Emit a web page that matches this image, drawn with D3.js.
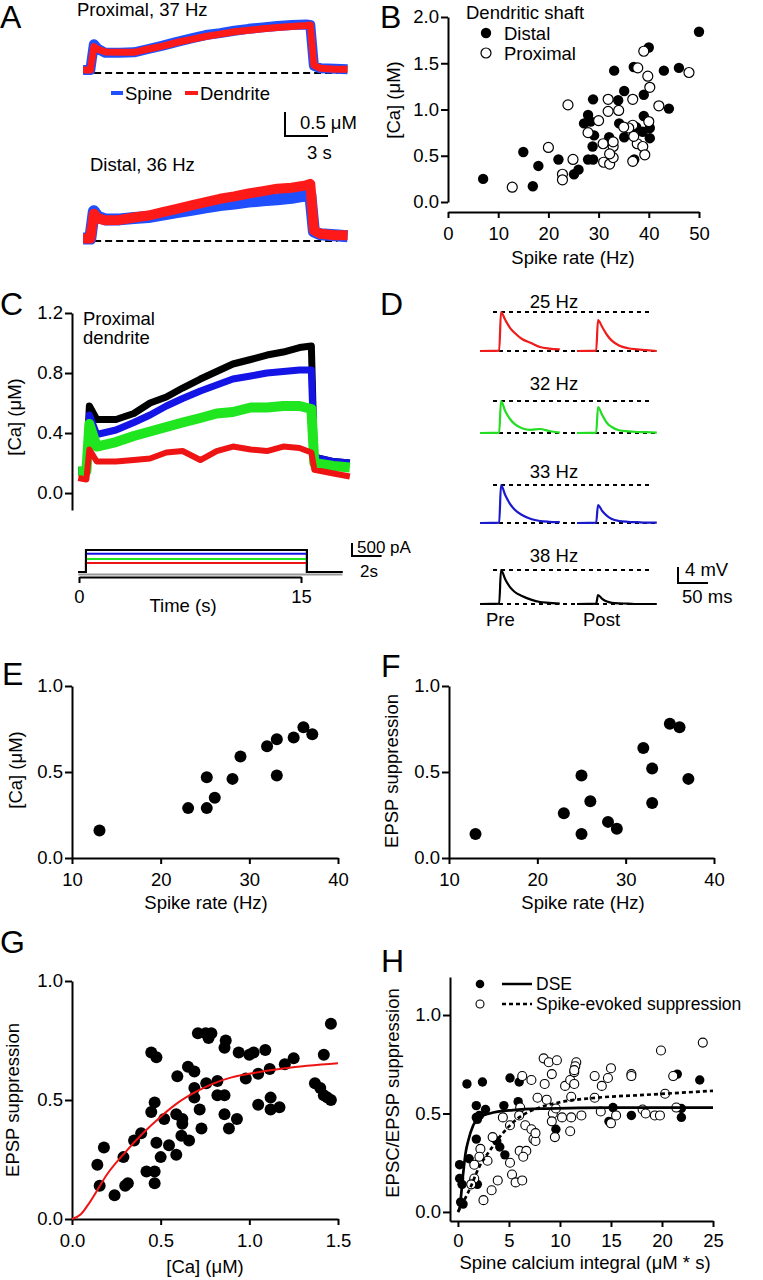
<!DOCTYPE html>
<html><head><meta charset="utf-8">
<script src="https://cdn.jsdelivr.net/npm/d3@7"></script>
<style>body{margin:0;background:#fff}</style>
</head><body>
<script>
const FONT = "'Liberation Sans', Arial, Helvetica, sans-serif";

// ---------- Panel A data (time s, [Ca] uM) ----------
const aTime = [-0.55, -0.05, 0.2, 0.5, 1, 2, 3, 4, 5, 6, 7, 8, 9, 10, 11, 12, 13, 14, 15, 15.3, 15.55, 16, 17, 17.9];
const aProxSpine = [0.06, 0.06, 0.6, 0.5, 0.42, 0.42, 0.43, 0.5, 0.57, 0.65, 0.72, 0.79, 0.83, 0.88, 0.92, 0.95, 0.98, 1.0, 1.01, 1.0, 0.15, 0.1, 0.09, 0.08];
const aProxDend  = [0.06, 0.06, 0.55, 0.49, 0.44, 0.43, 0.43, 0.5, 0.56, 0.64, 0.7, 0.76, 0.81, 0.86, 0.89, 0.92, 0.95, 0.97, 0.99, 1.0, 0.16, 0.1, 0.08, 0.08];
const aDistSpine = [0.05, 0.05, 0.62, 0.5, 0.45, 0.45, 0.48, 0.5, 0.55, 0.6, 0.65, 0.7, 0.75, 0.78, 0.82, 0.85, 0.87, 0.9, 0.95, 0.97, 0.2, 0.14, 0.12, 0.1];
const aDistDend  = [0.05, 0.05, 0.57, 0.47, 0.43, 0.44, 0.49, 0.53, 0.6, 0.67, 0.74, 0.81, 0.88, 0.93, 0.99, 1.04, 1.09, 1.11, 1.16, 1.19, 0.22, 0.15, 0.12, 0.12];
const aBaseSpan = [-0.55, 17.2];

// ---------- Panel B data (spike rate Hz, [Ca] uM) ----------
const bDistal = [[7,0.25],[15,0.54],[18,0.39],[16.9,0.17],[22,0.46],[25.1,0.3],[26,0.35],[27.1,0.85],[27.9,0.94],[28.4,0.87],[27.9,0.46],[28.9,0.46],[28.8,0.6],[28.9,1.11],[29.1,0.72],[33.1,1.42],[32.1,0.7],[33.9,1.1],[35.1,1.2],[34.1,0.85],[35.1,0.7],[37,1.46],[40,1.67],[39,1.16],[39,0.93],[40.2,0.8],[40.2,0.69],[38.8,0.76],[43,1.42],[46,1.45],[44,1.01],[50,1.84],[37.1,0.46],[37.5,0.81]];
const bProximal = [[12.8,0.16],[20,0.59],[23.9,1.05],[22.8,0.3],[22.8,0.24],[24.9,0.46],[27.9,0.75],[30,0.88],[30.9,0.63],[31,0.43],[31.9,1.11],[31.9,0.98],[32.2,0.41],[32.9,0.6],[32.9,0.48],[32.9,0.65],[34,0.99],[32.2,0.52],[36.8,0.83],[36.8,1.11],[37.8,1.45],[39,1.63],[39.8,1.36],[40.2,1.24],[40,0.87],[42,1.04],[48,1.4],[36,0.8],[37.7,0.63],[37,0.71],[38.8,0.6],[39.2,0.51],[36.8,0.44],[35,0.81]];
const bXTicks = [0, 10, 20, 30, 40, 50];
const bYTicks = [0, 0.5, 1.0, 1.5, 2.0];

// ---------- Panel C data ----------
const cTime  = [-0.05, 0.5, 0.7, 1.2, 2.5, 3.7, 4.8, 5.9, 7.0, 8.2, 9.3, 10.4, 11.6, 12.7, 13.8, 14.9, 15.7, 15.9, 17.2, 18.3];
const cBlack = [0.15, 0.15, 0.58, 0.49, 0.49, 0.53, 0.60, 0.64, 0.70, 0.76, 0.81, 0.86, 0.89, 0.92, 0.94, 0.97, 0.98, 0.24, 0.21, 0.20];
const cBlue  = [0.14, 0.14, 0.52, 0.39, 0.42, 0.47, 0.52, 0.58, 0.63, 0.68, 0.72, 0.76, 0.78, 0.80, 0.81, 0.82, 0.82, 0.24, 0.21, 0.20];
const cGreen = [0.145, 0.145, 0.46, 0.31, 0.34, 0.38, 0.41, 0.44, 0.47, 0.50, 0.53, 0.54, 0.57, 0.57, 0.58, 0.58, 0.56, 0.20, 0.18, 0.17];
const cRed   = [0.10, 0.09, 0.29, 0.21, 0.21, 0.22, 0.23, 0.27, 0.28, 0.22, 0.28, 0.31, 0.29, 0.28, 0.31, 0.30, 0.27, 0.155, 0.13, 0.11];
const cStimT = [-0.05, 0.47, 15.4, 17.8];
const cStimAmp = [850, 700, 500, 350]; // pA: black, blue, green, red
const cYTicks = [0, 0.4, 0.8, 1.2];
const cXTicks = [0, 15];

// ---------- Panel D data (ms, mV) ----------
const dTime = [0, 32, 35, 42, 50, 58, 70, 85, 100, 115, 133];
const dLabels = ["25 Hz", "32 Hz", "33 Hz", "38 Hz"];
const dColors = ["#ee1c1c", "#22dd22", "#1a1acc", "#000000"];
const dPre = [
  [0, 0.1, 9.75, 7.8, 5.8, 4.5, 3.0, 2.0, 1.0, 0.6, 0.4],
  [0, 0.1, 8.0, 5.5, 3.5, 2.2, 1.2, 0.8, 1.0, 0.5, 0.1],
  [0, 0.1, 9.5, 7.0, 4.8, 3.3, 2.0, 1.0, 0.5, 0.3, 0.2],
  [0, 0.1, 8.5, 6.2, 4.2, 3.0, 2.0, 1.1, 0.5, 0.3, 0.1]];
const dPost = [
  [0, 0.1, 7.75, 6.0, 4.0, 2.6, 1.4, 0.7, 0.4, 0.2, 0.0],
  [0, 0.1, 6.5, 4.5, 2.5, 1.5, 0.7, 0.4, 0.25, 0.2, 0.1],
  [0, 0.1, 4.5, 3.0, 1.8, 1.0, 0.5, 0.3, 0.2, 0.1, 0.1],
  [0, 0.1, 2.25, 1.3, 0.6, 0.3, 0.15, 0.1, 0, 0, 0]];

// ---------- Panel E / F data ----------
const eData = [[13.1,0.16],[23.1,0.29],[25.2,0.47],[25.2,0.29],[26.1,0.35],[28.1,0.46],[29,0.59],[32,0.65],[33.1,0.69],[33.1,0.48],[35,0.7],[36.1,0.76],[37.1,0.72]];
const fData = [[13,0.14],[23,0.26],[25,0.48],[25,0.14],[26,0.33],[28,0.21],[29,0.17],[32,0.64],[33,0.52],[33,0.32],[35,0.78],[36.1,0.76],[37.1,0.46]];
const efXTicks = [10, 20, 30, 40];
const efYTicks = [0, 0.5, 1.0];

// ---------- Panel G data ----------
const gData = [[0.143,0.228],[0.156,0.14],[0.18,0.3],[0.24,0.1],[0.29,0.26],[0.3,0.14],[0.315,0.15],[0.35,0.33],[0.39,0.36],[0.42,0.2],[0.447,0.7],[0.476,0.68],[0.447,0.45],[0.466,0.49],[0.466,0.2],[0.466,0.15],[0.476,0.32],[0.5,0.26],[0.52,0.42],[0.547,0.31],[0.588,0.27],[0.594,0.6],[0.588,0.44],[0.622,0.42],[0.622,0.4],[0.617,0.35],[0.66,0.33],[0.654,0.64],[0.69,0.62],[0.69,0.55],[0.69,0.51],[0.71,0.78],[0.754,0.78],[0.77,0.76],[0.786,0.78],[0.72,0.46],[0.73,0.38],[0.757,0.57],[0.82,0.58],[0.82,0.52],[0.86,0.52],[0.867,0.75],[0.86,0.72],[0.86,0.44],[0.885,0.38],[0.93,0.42],[0.94,0.7],[0.98,0.59],[1.0,0.69],[1.024,0.7],[1.05,0.61],[1.05,0.48],[1.09,0.71],[1.115,0.63],[1.12,0.51],[1.12,0.46],[1.17,0.47],[1.2,0.65],[1.25,0.675],[1.37,0.57],[1.4,0.55],[1.42,0.52],[1.44,0.51],[1.46,0.5],[1.42,0.69],[1.46,0.82]];
const gFitX = [0, 0.05, 0.1, 0.2, 0.3, 0.4, 0.5, 0.6, 0.7, 0.8, 0.9, 1.0, 1.2, 1.5];
const gFitY = [0, 0.02, 0.07, 0.19, 0.28, 0.36, 0.43, 0.49, 0.535, 0.57, 0.595, 0.61, 0.633, 0.654];
const gXTicks = [0, 0.5, 1.0, 1.5];
const gYTicks = [0, 0.5, 1.0];

// ---------- Panel H data ----------
const hDSE = [[0.88,0.65],[2.4,0.66],[1.8,0.54],[2.7,0.52],[1.8,0.48],[1.9,0.47],[2.1,0.49],[1.8,0.37],[1.1,0.27],[0.16,0.24],[0.16,0.17],[0.4,0.14],[0.26,0.05],[0.5,0.04],[1.9,0.14],[4.5,0.54],[5.1,0.68],[6.0,0.66],[5.9,0.56],[3.8,0.36],[4.1,0.33],[4.6,0.29],[9.6,0.42],[15.2,0.53],[14.8,0.46],[17,0.49],[21.5,0.7],[21.9,0.48],[21.9,0.525],[23.7,0.67]];
const hSpike = [[2.2,0.32],[2.1,0.28],[1.6,0.24],[1.6,0.17],[1.3,0.14],[2.9,0.26],[2.5,0.06],[3.3,0.11],[3.4,0.38],[3.9,0.16],[4.4,0.48],[5.1,0.25],[5.1,0.44],[5.3,0.19],[5.65,0.15],[6.3,0.16],[6.05,0.31],[6.7,0.31],[6.4,0.28],[6.3,0.69],[7.2,0.67],[6.1,0.53],[6.0,0.49],[6.6,0.44],[7.2,0.42],[7.4,0.37],[7.6,0.36],[7.6,0.4],[7.8,0.58],[8.4,0.78],[8.9,0.76],[9.7,0.77],[8.5,0.65],[8.7,0.57],[9.3,0.5],[9.2,0.46],[9.5,0.38],[9.2,0.7],[9.6,0.525],[10.5,0.64],[11,0.67],[11.1,0.585],[10.2,0.48],[11.1,0.48],[11.0,0.41],[11.4,0.65],[11.4,0.71],[11.6,0.76],[11.5,0.74],[11.4,0.72],[12.1,0.49],[13.4,0.69],[13.4,0.58],[14,0.51],[14.1,0.64],[14.7,0.68],[15,0.73],[15,0.45],[15.5,0.49],[17,0.7],[17,0.69],[18.1,0.52],[18.4,0.5],[19.3,0.49],[19.8,0.49],[19.9,0.82],[20.3,0.6],[21.1,0.69],[21.4,0.53],[24,0.86]];
const hDseFitX = [0, 0.16, 0.5, 0.75, 1.0, 1.5, 2.1, 3.1, 5.4, 8.7, 15, 25];
const hDseFitY = [0, 0.02, 0.19, 0.30, 0.36, 0.44, 0.48, 0.50, 0.517, 0.525, 0.53, 0.53];
const hSpkFitX = [0, 1.1, 2.1, 3.1, 4.4, 6.0, 8.0, 10.3, 13.6, 18.5, 25];
const hSpkFitY = [0, 0.11, 0.23, 0.31, 0.40, 0.48, 0.53, 0.56, 0.58, 0.595, 0.615];
const hXTicks = [0, 5, 10, 15, 20, 25];
const hYTicks = [0, 0.5, 1.0];

// =================== drawing ===================
const TICK_FS = 18.5, LAB_FS = 18.5;
const svg = d3.select("body").append("svg").attr("width", 763).attr("height", 1280)
  .style("font-family", FONT);

function txt(x, y, s, size, anchor, rot) {
  const t = svg.append("text").attr("font-size", size || LAB_FS).attr("fill", "#000")
    .attr("text-anchor", anchor || "start").text(s);
  if (rot) t.attr("transform", `translate(${x},${y}) rotate(-90)`);
  else t.attr("x", x).attr("y", y);
  return t;
}
function styleAxis(g) {
  g.selectAll("path").attr("stroke", "#000").attr("stroke-width", 2);
  g.selectAll("line").attr("stroke", "#000").attr("stroke-width", 2);
  g.selectAll("text").attr("font-size", TICK_FS).attr("font-family", FONT).attr("fill", "#000");
}
function leftAxis(x0, y, ticks, fmt) {
  const g = svg.append("g").attr("transform", `translate(${x0},0)`)
    .call(d3.axisLeft(y).tickValues(ticks).tickFormat(fmt).tickSize(7).tickPadding(2).tickSizeOuter(0));
  styleAxis(g);
}
function bottomAxis(y0, x, ticks, fmt, pad) {
  const g = svg.append("g").attr("transform", `translate(0,${y0})`)
    .call(d3.axisBottom(x).tickValues(ticks).tickFormat(fmt).tickSize(6).tickPadding(pad).tickSizeOuter(0));
  styleAxis(g);
}
const f1 = d3.format(".1f"), f0 = d3.format("d");

// ---------- Panel A ----------
txt(0, 28, "A", 32);
const xA = d3.scaleLinear().domain([0, 15]).range([91, 306]);
const yA1 = d3.scaleLinear().domain([0, 0.5]).range([73, 49]);
const yA2 = d3.scaleLinear().domain([0, 0.5]).range([241, 217]);
function traceA(vals, y, color, w) {
  const line = d3.line().x((d, i) => xA(aTime[i])).y(d => y(d));
  svg.append("path").datum(vals).attr("d", line).attr("fill", "none")
    .attr("stroke", color).attr("stroke-width", w).attr("stroke-linejoin", "round");
}
[yA1, yA2].forEach(y => {
  svg.append("line").attr("x1", xA(aBaseSpan[0])).attr("x2", xA(aBaseSpan[1]))
    .attr("y1", y(0)).attr("y2", y(0)).attr("stroke", "#000").attr("stroke-width", 2)
    .attr("stroke-dasharray", "7,4");
});
traceA(aProxSpine, yA1, "#1f4fff", 10);
traceA(aProxDend, yA1, "#ff1a1a", 7);
traceA(aDistSpine, yA2, "#1f4fff", 12);
traceA(aDistDend, yA2, "#ff1a1a", 10);
txt(77, 16, "Proximal, 37 Hz");
txt(90, 171, "Distal, 36 Hz");
// legend
svg.append("line").attr("x1", 111).attr("x2", 123).attr("y1", 93).attr("y2", 93).attr("stroke", "#1f4fff").attr("stroke-width", 4);
txt(125, 100, "Spine");
svg.append("line").attr("x1", 185).attr("x2", 198).attr("y1", 93).attr("y2", 93).attr("stroke", "#ff1a1a").attr("stroke-width", 4);
txt(200, 100, "Dendrite");
// scale bar 0.5 uM, 3 s
{
  const sx = 285, sy = 136;
  const h = yA1(0) - yA1(0.5), w = xA(3) - xA(0);
  svg.append("path").attr("d", `M${sx},${sy - h}V${sy}H${sx + w}`).attr("fill", "none").attr("stroke", "#000").attr("stroke-width", 2);
  txt(300, 129, "0.5 \u03BCM");
  txt(307, 159, "3 s");
}

// ---------- Panel B ----------
txt(380, 28, "B", 32);
const xB = d3.scaleLinear().domain([0, 50]).range([448, 699]);
const yB = d3.scaleLinear().domain([0, 2]).range([202, 17]);
leftAxis(448, yB, bYTicks, f1);
bottomAxis(212, xB, bXTicks, f0, 9);
svg.append("g").selectAll("circle").data(bDistal).join("circle")
  .attr("cx", d => xB(d[0])).attr("cy", d => yB(d[1])).attr("r", 5.2).attr("fill", "#000");
svg.append("g").selectAll("circle").data(bProximal).join("circle")
  .attr("cx", d => xB(d[0])).attr("cy", d => yB(d[1])).attr("r", 5).attr("fill", "#fff").attr("stroke", "#000").attr("stroke-width", 1.2);
txt(400, 100, "[Ca] (\u03BCM)", LAB_FS, "middle", true);
txt(573, 264, "Spike rate (Hz)", LAB_FS, "middle");
txt(466, 19, "Dendritic shaft");
svg.append("circle").attr("cx", 486).attr("cy", 33).attr("r", 5.2).attr("fill", "#000");
txt(504, 40, "Distal");
svg.append("circle").attr("cx", 486).attr("cy", 53).attr("r", 5).attr("fill", "#fff").attr("stroke", "#000").attr("stroke-width", 1.2);
txt(504, 60, "Proximal");

// ---------- Panel C ----------
txt(0, 315, "C", 32);
const xC = d3.scaleLinear().domain([0, 15]).range([79, 301]);
const yC = d3.scaleLinear().domain([-0.113, 1.2]).range([510, 313]);
leftAxis(72, yC, cYTicks, f1);
function traceC(vals, color, w) {
  const line = d3.line().x((d, i) => xC(cTime[i])).y(d => yC(d));
  svg.append("path").datum(vals).attr("d", line).attr("fill", "none")
    .attr("stroke", color).attr("stroke-width", w).attr("stroke-linejoin", "round");
}
traceC(cBlack, "#000", 7);
traceC(cBlue, "#1414e6", 7);
traceC(cGreen, "#1fe61f", 10);
traceC(cRed, "#ee1414", 6);
txt(83, 325, "Proximal");
txt(83, 344, "dendrite");
txt(21, 417, "[Ca] (\u03BCM)", LAB_FS, "middle", true);
// stimulus
const yStim = d3.scaleLinear().domain([0, 500]).range([572, 559]);
const stimColors = ["#000", "#1414e6", "#1fe61f", "#ee1414"];
svg.append("line").attr("x1", xC(cStimT[0])).attr("x2", xC(cStimT[3])).attr("y1", yStim(0) + 2.5).attr("y2", yStim(0) + 2.5)
  .attr("stroke", "#999").attr("stroke-width", 2);
cStimAmp.forEach((a, i) => {
  svg.append("path").attr("d",
    `M${xC(cStimT[0])},${yStim(0)}H${xC(cStimT[1])}V${yStim(a)}H${xC(cStimT[2])}V${yStim(0)}H${xC(cStimT[3])}`)
    .attr("fill", "none").attr("stroke", stimColors[i]).attr("stroke-width", 2);
});
svg.append("path").attr("d",
  `M${xC(cStimT[0])},${yStim(0)}H${xC(cStimT[1])}V${yStim(cStimAmp[0])}H${xC(cStimT[2])}V${yStim(0)}H${xC(cStimT[3])}`)
  .attr("fill", "none").attr("stroke", "#000").attr("stroke-width", 2);
bottomAxis(577, xC, cXTicks, f0, 7);
txt(183, 612, "Time (s)", LAB_FS, "middle");
{
  const sx = 352, sy = 556;
  const h = yStim(0) - yStim(500), w = xC(2) - xC(0);
  svg.append("path").attr("d", `M${sx},${sy - h}V${sy}H${sx + w}`).attr("fill", "none").attr("stroke", "#000").attr("stroke-width", 2);
  txt(357, 553, "500 pA", 17);
  txt(360, 577, "2s", 17);
}

// ---------- Panel D ----------
txt(380, 315, "D", 32);
const dBase = [351, 433, 523, 604];
const dTitleY = [308, 390, 478, 562];
const xDpre = d3.scaleLinear().domain([0, 50]).range([480, 510]);
const xDpost = d3.scaleLinear().domain([0, 50]).range([577, 607]);
dLabels.forEach((lab, r) => {
  const yD = d3.scaleLinear().domain([0, 4]).range([dBase[r], dBase[r] - 16]);
  const peak = d3.max(dPre[r]);
  svg.append("line").attr("x1", 493).attr("x2", 650).attr("y1", yD(peak)).attr("y2", yD(peak))
    .attr("stroke", "#000").attr("stroke-width", 2).attr("stroke-dasharray", "4,4");
  svg.append("line").attr("x1", 483).attr("x2", 657).attr("y1", yD(0)).attr("y2", yD(0))
    .attr("stroke", "#000").attr("stroke-width", 2).attr("stroke-dasharray", "4,4");
  const lp = d3.line().x((d, i) => xDpre(dTime[i])).y(d => yD(d)).curve(d3.curveMonotoneX);
  const lq = d3.line().x((d, i) => xDpost(dTime[i])).y(d => yD(d)).curve(d3.curveMonotoneX);
  svg.append("path").datum(dPre[r]).attr("d", lp).attr("fill", "none").attr("stroke", dColors[r]).attr("stroke-width", 2.2);
  svg.append("path").datum(dPost[r]).attr("d", lq).attr("fill", "none").attr("stroke", dColors[r]).attr("stroke-width", 2.2);
  txt(554, dTitleY[r], lab, LAB_FS, "middle");
});
txt(486, 626, "Pre");
txt(583, 626, "Post");
{
  const sx = 678, sy = 583;
  svg.append("path").attr("d", `M${sx},${sy - 16}V${sy}H${sx + xDpre(50) - xDpre(0)}`).attr("fill", "none").attr("stroke", "#000").attr("stroke-width", 2);
  txt(685, 576, "4 mV");
  txt(682, 603, "50 ms");
}

// ---------- Panel E ----------
txt(2, 685, "E", 32);
const xE = d3.scaleLinear().domain([10, 40]).range([72, 338]);
const yE = d3.scaleLinear().domain([0, 1]).range([858, 686]);
leftAxis(72, yE, efYTicks, f1);
bottomAxis(858, xE, efXTicks, f0, 9);
svg.append("g").selectAll("circle").data(eData).join("circle")
  .attr("cx", d => xE(d[0])).attr("cy", d => yE(d[1])).attr("r", 6).attr("fill", "#000");
txt(22, 770, "[Ca] (\u03BCM)", LAB_FS, "middle", true);
txt(206, 909, "Spike rate (Hz)", LAB_FS, "middle");

// ---------- Panel F ----------
txt(381, 677, "F", 32);
const xF = d3.scaleLinear().domain([10, 40]).range([449, 714]);
const yF = d3.scaleLinear().domain([0, 1]).range([858, 686]);
leftAxis(449, yF, efYTicks, f1);
bottomAxis(858, xF, efXTicks, f0, 9);
svg.append("g").selectAll("circle").data(fData).join("circle")
  .attr("cx", d => xF(d[0])).attr("cy", d => yF(d[1])).attr("r", 6).attr("fill", "#000");
txt(398, 771, "EPSP suppression", LAB_FS, "middle", true);
txt(583, 909, "Spike rate (Hz)", LAB_FS, "middle");

// ---------- Panel G ----------
txt(0, 953, "G", 32);
const xG = d3.scaleLinear().domain([0, 1.5]).range([72, 338]);
const yG = d3.scaleLinear().domain([0, 1]).range([1219, 981]);
leftAxis(72, yG, gYTicks, f1);
bottomAxis(1219, xG, gXTicks, f1, 9);
svg.append("g").selectAll("circle").data(gData).join("circle")
  .attr("cx", d => xG(d[0])).attr("cy", d => yG(d[1])).attr("r", 6).attr("fill", "#000");
svg.append("path").datum(gFitX.map((x, i) => [x, gFitY[i]]))
  .attr("d", d3.line().x(d => xG(d[0])).y(d => yG(d[1])).curve(d3.curveMonotoneX))
  .attr("fill", "none").attr("stroke", "#ee1414").attr("stroke-width", 2);
txt(19, 1100, "EPSP suppression", LAB_FS, "middle", true);
txt(205, 1273, "[Ca] (\u03BCM)", LAB_FS, "middle");

// ---------- Panel H ----------
txt(381, 972, "H", 32);
const xH = d3.scaleLinear().domain([-0.78, 25]).range([450, 713]);
const yH = d3.scaleLinear().domain([-0.046, 1.193]).range([1221, 977]);
leftAxis(450, yH, hYTicks, f1);
bottomAxis(1221, xH, hXTicks, f0, 7);
svg.append("g").selectAll("circle").data(hDSE).join("circle")
  .attr("cx", d => xH(d[0])).attr("cy", d => yH(d[1])).attr("r", 4.7).attr("fill", "#000");
svg.append("g").selectAll("circle").data(hSpike).join("circle")
  .attr("cx", d => xH(d[0])).attr("cy", d => yH(d[1])).attr("r", 4.5).attr("fill", "#fff").attr("stroke", "#000").attr("stroke-width", 1.1);
svg.append("path").datum(hDseFitX.map((x, i) => [x, hDseFitY[i]]))
  .attr("d", d3.line().x(d => xH(d[0])).y(d => yH(d[1])).curve(d3.curveMonotoneX))
  .attr("fill", "none").attr("stroke", "#000").attr("stroke-width", 2.7);
svg.append("path").datum(hSpkFitX.map((x, i) => [x, hSpkFitY[i]]))
  .attr("d", d3.line().x(d => xH(d[0])).y(d => yH(d[1])).curve(d3.curveMonotoneX))
  .attr("fill", "none").attr("stroke", "#000").attr("stroke-width", 2.7).attr("stroke-dasharray", "4,3");
txt(399, 1093, "EPSC/EPSP suppression", LAB_FS, "middle", true);
txt(585, 1269, "Spine calcium integral (\u03BCM * s)", LAB_FS, "middle");
svg.append("circle").attr("cx", 480).attr("cy", 984).attr("r", 4.3).attr("fill", "#000");
svg.append("line").attr("x1", 502).attr("x2", 532).attr("y1", 984).attr("y2", 984).attr("stroke", "#000").attr("stroke-width", 2.5);
txt(536, 990, "DSE", 17.5);
svg.append("circle").attr("cx", 480).attr("cy", 1004).attr("r", 4).attr("fill", "#fff").attr("stroke", "#000").attr("stroke-width", 1.1);
svg.append("line").attr("x1", 502).attr("x2", 532).attr("y1", 1004).attr("y2", 1004).attr("stroke", "#000").attr("stroke-width", 2.5).attr("stroke-dasharray", "4,3");
txt(536, 1010, "Spike-evoked suppression", 17.5);
</script>
</body></html>
